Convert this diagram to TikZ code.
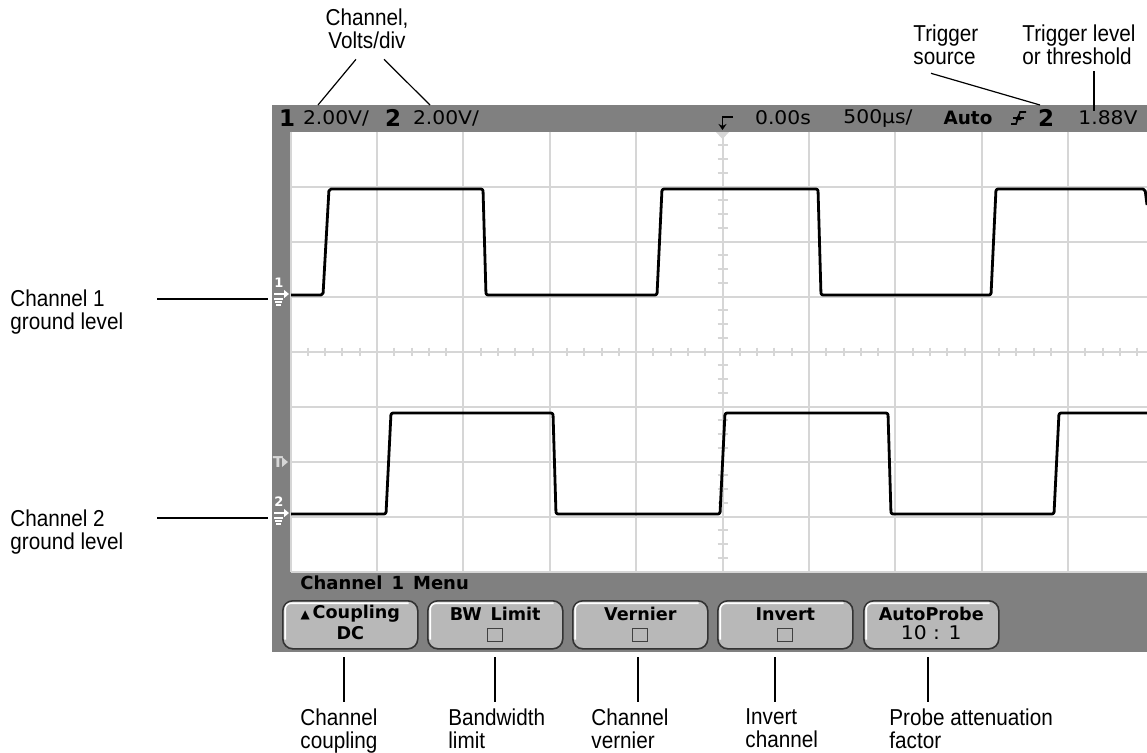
\documentclass[tikz,border=0pt]{standalone}
\usepackage{fontspec}
\setmainfont{Liberation Sans}[FakeStretch=0.9]
\newfontfamily\scrfont{DejaVu Sans}[FakeStretch=1.08]
\newfontfamily\menufont{DejaVu Sans}
\usetikzlibrary{arrows.meta,positioning}
\definecolor{bezel}{gray}{0.5}
\definecolor{gridln}{gray}{0.84}
\definecolor{btnfill}{gray}{0.72}
\newcommand\lblsize{\fontsize{11.5}{11.8}\selectfont}
\newcommand\scrsize{\scrfont\fontsize{9.4}{11}\selectfont}
\newcommand\chnsize{\menufont\bfseries\fontsize{11.5}{12}\selectfont}
\newcommand\btnsize{\menufont\bfseries\fontsize{8.8}{10}\selectfont}

\begin{document}
\begin{tikzpicture}[x=0.5pt,y=-0.5pt,
    lbl/.style={font=\lblsize, align=left, inner sep=0pt},
    scr/.style={font=\scrsize, inner sep=0pt},
    chn/.style={font=\chnsize, inner sep=0pt},
    btn/.style={draw=black!80, fill=btnfill, rounded corners=5pt, line width=0.8pt,
        minimum width=67.5pt, minimum height=24pt, inner sep=0pt},
    btxt/.style={font=\btnsize, inner sep=0pt},
    chk/.style={draw=black!75, fill=btnfill, line width=0.6pt,
        minimum width=7.5pt, minimum height=6.5pt, inner sep=0pt},
    gmark/.style={white, line width=0.7pt},
    wave/.style={line width=1.4pt, line join=round, rounded corners=1pt},
    lead/.style={line width=0.6pt}]
    \useasboundingbox (0,0) rectangle (1147,752);

    % screen and graticule
    \fill[bezel] (272,105) rectangle (1147,652);
    \fill[white] (290.6,131.5) rectangle (1147,571.5);
    \foreach \k in {0,...,9}
        \draw[gridln, line width=1pt] (290.6+86.4*\k,131.5) -- (290.6+86.4*\k,571.5);
    \foreach \k in {1,...,8}
        \draw[gridln, line width=1pt] (290.6,131.5+55*\k) -- (1147,131.5+55*\k);
    \foreach \i in {1,...,49}
        \draw[gridln, line width=1pt] (290.6+17.28*\i,347.5) -- (290.6+17.28*\i,355.5);
    \foreach \j in {1,...,31}
        \draw[gridln, line width=1pt] (717.6,131.5+13.75*\j) -- (727.6,131.5+13.75*\j);

    % traces
    \draw[wave] plot coordinates {(291,295) (323,295) (329,189) (483,189) (486,295) (657,295) (662,189)
        (818,189) (821,295) (991,295) (996,189) (1145,189) (1147,205)};
    \draw[wave] plot coordinates {(291,514) (386,514) (391,413) (553,413) (556,514) (720,514) (725,413)
        (888,413) (891,514) (1054,514) (1059,413) (1147,413)};

    % ground and trigger markers
    \node[font=\menufont\bfseries\fontsize{6.5}{6.5}\selectfont, text=white, inner sep=0pt] (m1) at (279,283) {1};
    \draw[gmark, -{Triangle[length=2.5pt,width=4pt]}] (274,294) -- (289,294);
    \draw[gmark] (274,299) -- (283,299) (275,302) -- (282,302) (276,305) -- (281,305);
    \node[font=\menufont\bfseries\fontsize{6.5}{6.5}\selectfont, text=white, inner sep=0pt] (m2) at (279,502) {2};
    \draw[gmark, -{Triangle[length=2.5pt,width=4pt]}] (274,513) -- (289,513);
    \draw[gmark] (274,518) -- (283,518) (275,521) -- (282,521) (276,524) -- (281,524);
    \node[font=\menufont\bfseries\fontsize{7.5}{7.5}\selectfont, text=gridln, inner sep=0pt] (mt) at (278,462) {T};
    \fill[gridln] (282,457) -- (288,462) -- (282,467) -- cycle;
    \fill[gridln] (716,132) -- (729,132) -- (722.5,139) -- cycle;
    \draw[line width=0.9pt, -{Stealth[length=3pt,width=4pt]}] (733,117) -- (722.5,117) -- (722.5,130);

    % status line
    \node[chn] (n1) at (287,118) {1};
    \node[scr] (v1) at (336,118) {2.00V/};
    \node[chn] (n2) at (393,118) {2};
    \node[scr] (v2) at (446,118) {2.00V/};
    \node[scr] (tpos) at (783,118) {0.00s};
    \node[scr] (tdiv) at (878,118) {500µs/};
    \node[btxt, font=\menufont\bfseries\fontsize{9.2}{10}\selectfont] (mode) at (968,118) {Auto};
    \draw[line width=0.8pt] (1011,124) -- (1016,124) -- (1020,112) -- (1026,112);
    \fill (1018.5,114) -- (1021.5,120) -- (1015.5,120) -- cycle;
    \draw[line width=0.8pt] (1013,118) -- (1024,118);
    \node[chn] (tsrc) at (1046,118) {2};
    \node[scr] (tlev) at (1108,118) {1.88V};

    % softkey menu
    \node[btxt, anchor=west, font=\menufont\bfseries\fontsize{9}{10}\selectfont] (menu) at (300,583)
        {Channel\enspace 1\enspace Menu};
    \foreach \n/\x in {cpl/282, bw/427, vrn/572, inv/717, apr/863} {
        \node[btn, anchor=north west] (\n) at (\x,600) {};
        \draw[white, line width=0.8pt, rounded corners=3pt] ([xshift=1.6pt,yshift=5pt]\n.south west)
            -- ([xshift=1.6pt,yshift=-1.6pt]\n.north west) -- ([xshift=-5pt,yshift=-1.6pt]\n.north east);
    }
    \node[btxt] (cplA) at ([yshift=5.5pt]cpl.center) {\fontsize{6}{6}\selectfont▲\fontsize{8.8}{10}\selectfont\,Coupling};
    \node[btxt] (cplB) at ([yshift=-4pt]cpl.center) {DC};
    \node[btxt] (bwA) at ([yshift=5.5pt]bw.center) {BW\enspace Limit};
    \node[chk] (bwB) at ([yshift=-5pt]bw.center) {};
    \node[btxt] (vrnA) at ([yshift=5.5pt]vrn.center) {Vernier};
    \node[chk] (vrnB) at ([yshift=-5pt]vrn.center) {};
    \node[btxt] (invA) at ([yshift=5.5pt]inv.center) {Invert};
    \node[chk] (invB) at ([yshift=-5pt]inv.center) {};
    \node[btxt] (aprA) at ([yshift=5.5pt]apr.center) {AutoProbe};
    \node[scr] (aprB) at ([yshift=-4pt]apr.center) {10 : 1};

    % callouts
    \node[lbl, align=center, anchor=north] (vd) at (367,8) {Channel,\\Volts/div};
    \coordinate (vd1) at (318,105);
    \coordinate (vd2) at (430,105);
    \draw[lead] ([xshift=-5.5pt,yshift=-5pt]vd.south) -- (vd1);
    \draw[lead] ([xshift=8.5pt,yshift=-5pt]vd.south) -- (vd2);
    \node[lbl, anchor=north west] (ts) at (913,24) {Trigger\\source};
    \coordinate (tsE) at (1040,105);
    \draw[lead] ([xshift=9pt,yshift=-4pt]ts.south west) -- (tsE);
    \node[lbl, anchor=north west] (tl) at (1022,24) {Trigger level\\or threshold};
    \coordinate (tlE) at (1094,111);
    \draw[lead] (tlE |- tl.south) ++(0,6) -- (tlE);

    \node[lbl, anchor=north west] (g1) at (10,289) {Channel 1\\ground level};
    \node[lbl, anchor=north west] (g2) at (10,509) {Channel 2\\ground level};
    \coordinate (g1s) at (157,299);
    \coordinate (g1e) at (268,299);
    \coordinate (g2s) at (157,518);
    \coordinate (g2e) at (268,518);
    \draw[lead] (g1s) -- (g1e);
    \draw[lead] (g2s) -- (g2e);

    \node[lbl, anchor=north west] (lcpl) at (300,708) {Channel\\coupling};
    \node[lbl, anchor=north west] (lbw) at (448,708) {Bandwidth\\limit};
    \node[lbl, anchor=north west] (lvrn) at (591,708) {Channel\\vernier};
    \node[lbl, anchor=north west] (linv) at (745,708) {Invert\\channel};
    \node[lbl, anchor=north west] (lapr) at (889,708) {Probe attenuation\\factor};
    \foreach \n/\x in {lcpl/344, lbw/495, lvrn/638, linv/775, lapr/928} {
        \coordinate (\n top) at (\x,657);
        \draw[lead] (\n top) -- ([yshift=3pt]\n top |- \n.north);
    }
\end{tikzpicture}
\end{document}
